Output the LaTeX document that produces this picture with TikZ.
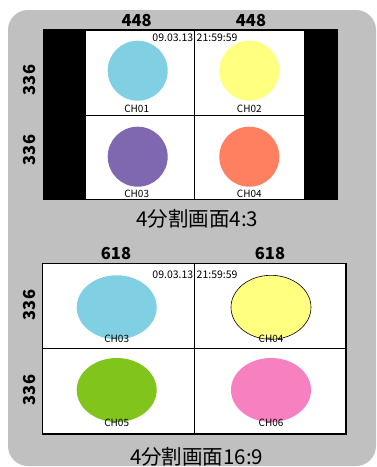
\documentclass[tikz,border=0pt]{standalone}
\usepackage{fontspec}
\setmainfont{Noto Sans CJK JP}
\setsansfont{Noto Sans CJK JP}
\definecolor{bg}{HTML}{C0C0C0}
\definecolor{cblue}{HTML}{80CFE3}
\definecolor{cyellow}{HTML}{FFFF80}
\definecolor{cpurple}{HTML}{8068B0}
\definecolor{corange}{HTML}{FF8060}
\definecolor{cgreen}{HTML}{80C41C}
\definecolor{cpink}{HTML}{F780C0}
\tikzset{
  dimlbl/.style={font=\fontsize{16.5}{16.5}\selectfont\bfseries, inner sep=0pt},
  chlbl/.style={font=\fontsize{10}{10}\selectfont, inner sep=0pt},
  stamp/.style={font=\fontsize{10.5}{10.5}\selectfont, inner sep=0pt},
  caption/.style={font=\fontsize{20.5}{20.5}\selectfont, inner sep=0pt},
  frame/.style={draw=black, line width=1.2pt},
}
\begin{document}
\begin{tikzpicture}[x=1pt,y=-1pt]
\useasboundingbox (0,0) rectangle (376,467);
\fill[white] (0,0) rectangle (376,467);
\fill[bg, rounded corners=20pt] (8,10) rectangle (376,466);
% ---- top 4:3
\fill[black] (42.7,29.3) rectangle (337.5,200);
\fill[white] (86,30.5) rectangle (304,199);
\draw[line width=1.2pt] (194.3,30.5) -- (194.3,199);
\draw[line width=1.2pt] (86,115.7) -- (304,115.7);
\fill[cblue] (137.7,70.7) circle (30);
\fill[cyellow] (249.3,70.7) circle (30);
\fill[cpurple] (137.7,156.7) circle (30);
\fill[corange] (249.3,156.7) circle (30);
\node[chlbl] (t1) at (136.7,109.3) {CH01};
\node[chlbl] (t2) at (249.3,109.3) {CH02};
\node[chlbl] (t3) at (136.7,194) {CH03};
\node[chlbl] (t4) at (249.3,194) {CH04};
\node[stamp] (ts1) at (195,37.3) {09.03.13\,\,21:59:59};
\node[dimlbl] (w1) at (136.7,20.7) {448};
\node[dimlbl] (w2) at (251,20.7) {448};
\node[dimlbl, rotate=90] (h1) at (29.3,80) {336};
\node[dimlbl, rotate=90] (h2) at (29.3,150) {336};
\node[caption] (c1) at (197.3,218.3) {4分割画面4:3};
% ---- bottom 16:9
\fill[white] (42.7,263.7) rectangle (346,434);
\fill[cblue] (116.7,307.3) ellipse (40 and 32);
\filldraw[fill=cyellow, draw=black, line width=0.6pt] (271,307.3) ellipse (40 and 32);
\fill[cgreen] (116.7,390) ellipse (40 and 32);
\fill[cpink] (271,390) ellipse (40 and 32);
\draw[frame] (42.7,263.7) rectangle (346,434);
\draw[line width=1.2pt] (194.3,263.7) -- (194.3,434);
\draw[line width=1.2pt] (42.7,348.7) -- (346,348.7);
\node[chlbl] (b3) at (116.7,339) {CH03};
\node[chlbl] (b4) at (271,339) {CH04};
\node[chlbl] (b5) at (116.7,423.3) {CH05};
\node[chlbl] (b6) at (271,423.3) {CH06};
\node[stamp] (ts2) at (195,274.3) {09.03.13\,\,21:59:59};
\node[dimlbl] (w3) at (116,253.3) {618};
\node[dimlbl] (w4) at (270,253.3) {618};
\node[dimlbl, rotate=90] (h3) at (29.3,305) {336};
\node[dimlbl, rotate=90] (h4) at (29.3,390) {336};
\node[caption] (c2) at (196.7,456.7) {4分割画面16:9};
\end{tikzpicture}
\end{document}
